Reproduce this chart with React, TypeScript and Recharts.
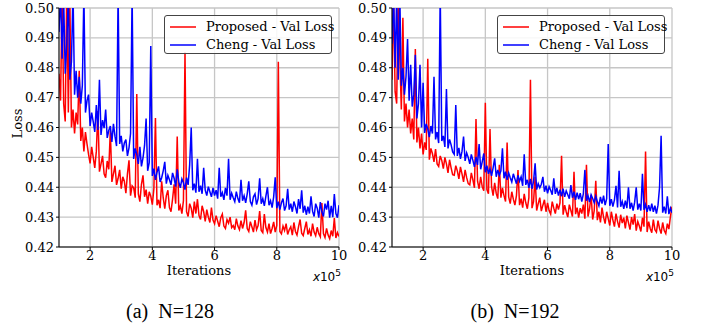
import {
  LineChart,
  Line,
  XAxis,
  YAxis,
  CartesianGrid,
} from "recharts";

// iterations, in units of 1e5
const iterations = Array.from({ length: 181 }, (_, i) => +(1 + i * 0.05).toFixed(2));

const xTicks = [2, 4, 6, 8, 10];
const yTicks = [0.42, 0.43, 0.44, 0.45, 0.46, 0.47, 0.48, 0.49, 0.5];

const seriesNames = ["Proposed - Val Loss", "Cheng - Val Loss"];
const captions = ["(a)  N=128", "(b)  N=192"];

// (a) N=128
const proposedA = [
  0.478, 0.469, 0.505, 0.468, 0.462, 0.508, 0.465, 0.502, 0.46, 0.466,
  0.458, 0.465, 0.461, 0.479, 0.4555, 0.46, 0.452, 0.4585, 0.4545, 0.451,
  0.448, 0.4535, 0.45, 0.4465, 0.452, 0.4655, 0.4452, 0.4478, 0.4505, 0.4445,
  0.4432, 0.4488, 0.446, 0.459, 0.4418, 0.4445, 0.4472, 0.4408, 0.443, 0.4458,
  0.4395, 0.4435, 0.442, 0.438, 0.4445, 0.449, 0.4372, 0.4405, 0.4398, 0.4365,
  0.4712, 0.4378, 0.4352, 0.441, 0.444, 0.4368, 0.4392, 0.4345, 0.4385, 0.437,
  0.4342, 0.4395, 0.4632, 0.434, 0.4358, 0.433, 0.442, 0.4365, 0.4328, 0.4372,
  0.439, 0.4332, 0.4318, 0.436, 0.441, 0.4345, 0.457, 0.4322, 0.4338, 0.4312,
  0.4355, 0.4853, 0.4318, 0.4302, 0.4345, 0.433, 0.4298, 0.4352, 0.4312, 0.436,
  0.4305, 0.4292, 0.4338, 0.4318, 0.4286, 0.4325, 0.43, 0.4282, 0.4332, 0.429,
  0.4278, 0.4305, 0.4286, 0.4268, 0.4298, 0.431, 0.427, 0.4262, 0.4292, 0.428,
  0.43, 0.4265, 0.4272, 0.4258, 0.4295, 0.427, 0.4258, 0.4288, 0.4262, 0.4282,
  0.4323, 0.4262, 0.4252, 0.4285, 0.4268, 0.425, 0.429, 0.4258, 0.4272, 0.432,
  0.4255, 0.4248, 0.431, 0.4265, 0.425, 0.4278, 0.4245, 0.4262, 0.4284, 0.425,
  0.4272, 0.482, 0.4252, 0.4244, 0.427, 0.4255, 0.4278, 0.4242, 0.4258, 0.4268,
  0.424, 0.4282, 0.4252, 0.424, 0.4268, 0.4292, 0.4246, 0.4238, 0.4262, 0.4285,
  0.4242, 0.4258, 0.4236, 0.4278, 0.425, 0.4238, 0.4266, 0.4244, 0.4234, 0.4347,
  0.4245, 0.4232, 0.4262, 0.424, 0.4228, 0.4255, 0.4236, 0.4297, 0.423, 0.4248,
  0.4235,
];
const chengA = [
  0.492, 0.505, 0.483, 0.503, 0.478, 0.488, 0.504, 0.476, 0.482, 0.506,
  0.471, 0.479, 0.47, 0.477, 0.468, 0.474, 0.505, 0.465, 0.469, 0.471,
  0.4605, 0.465, 0.462, 0.4585, 0.4675, 0.4592, 0.476, 0.4575, 0.4625, 0.4598,
  0.466, 0.4565, 0.459, 0.4605, 0.4552, 0.4612, 0.457, 0.4538, 0.505, 0.4545,
  0.4572, 0.452, 0.4548, 0.456, 0.4505, 0.4532, 0.458, 0.505, 0.4495, 0.453,
  0.451, 0.4478, 0.4535, 0.447, 0.4498, 0.454, 0.463, 0.4455, 0.4482, 0.4873,
  0.4438, 0.4462, 0.4425, 0.445, 0.447, 0.4418, 0.4432, 0.4455, 0.4485, 0.4412,
  0.444, 0.4425, 0.4408, 0.4448, 0.443, 0.4402, 0.446, 0.4418, 0.4398, 0.4428,
  0.4415, 0.4392, 0.4432, 0.4408, 0.4475, 0.46, 0.439, 0.4412, 0.4382, 0.4495,
  0.4385, 0.4405, 0.4378, 0.4465, 0.439, 0.4372, 0.4402, 0.4385, 0.4368, 0.4398,
  0.4372, 0.439, 0.4362, 0.4465, 0.4368, 0.4382, 0.4358, 0.4398, 0.4372, 0.4495,
  0.4358, 0.438, 0.4365, 0.4352, 0.4385, 0.4362, 0.4348, 0.4425, 0.4355, 0.4372,
  0.4348, 0.4378, 0.442, 0.4352, 0.434, 0.4368, 0.4378, 0.4342, 0.4362, 0.443,
  0.4345, 0.4362, 0.4338, 0.437, 0.44, 0.434, 0.4355, 0.4332, 0.4368, 0.4433,
  0.433, 0.4352, 0.4325, 0.4348, 0.4362, 0.4322, 0.4338, 0.4395, 0.4325, 0.4345,
  0.4318, 0.4352, 0.4335, 0.4312, 0.436, 0.4328, 0.439, 0.4315, 0.4338, 0.4308,
  0.4335, 0.4312, 0.437, 0.432, 0.4302, 0.4345, 0.433, 0.4298, 0.435, 0.4318,
  0.4302, 0.4345, 0.4325, 0.4355, 0.4298, 0.4338, 0.43, 0.4377, 0.4312, 0.4298,
  0.434,
];

// (b) N=192
const proposedB = [
  0.476, 0.505, 0.472, 0.468, 0.504, 0.484, 0.466, 0.4967, 0.462, 0.468,
  0.46, 0.466, 0.458, 0.463, 0.456, 0.4863, 0.455, 0.46, 0.453, 0.458,
  0.451, 0.455, 0.4525, 0.483, 0.4492, 0.453, 0.4512, 0.4485, 0.4528, 0.4478,
  0.447, 0.4505, 0.449, 0.4462, 0.45, 0.4478, 0.4448, 0.4492, 0.4465, 0.4442,
  0.444, 0.4472, 0.4455, 0.4428, 0.4468, 0.4445, 0.4418, 0.4458, 0.4432, 0.4412,
  0.4408, 0.4448, 0.4425, 0.4398, 0.4628, 0.442, 0.4395, 0.4435, 0.4402, 0.4388,
  0.4683, 0.4392, 0.4378, 0.4595, 0.4402, 0.4372, 0.4415, 0.438, 0.4362, 0.4475,
  0.4365, 0.4398, 0.4372, 0.4352, 0.455, 0.4368, 0.4345, 0.4385, 0.436, 0.434,
  0.4372, 0.4458, 0.434, 0.4362, 0.4332, 0.4378, 0.4348, 0.4328, 0.4365, 0.476,
  0.433, 0.4352, 0.4435, 0.4322, 0.4345, 0.4365, 0.432, 0.434, 0.4358, 0.4318,
  0.4348, 0.4322, 0.431, 0.4352, 0.433, 0.4312, 0.4345, 0.4325, 0.4348, 0.4505,
  0.4308, 0.434, 0.4318, 0.43, 0.4342, 0.4322, 0.4302, 0.4452, 0.431, 0.4332,
  0.4298, 0.433, 0.4312, 0.4342, 0.4295, 0.4475, 0.4302, 0.4328, 0.4375, 0.4292,
  0.4322, 0.4422, 0.429, 0.4318, 0.4282, 0.4332, 0.43, 0.4278, 0.4318, 0.4295,
  0.4272, 0.4318, 0.429, 0.4268, 0.4312, 0.4285, 0.4265, 0.4308, 0.428, 0.4298,
  0.4262, 0.4305, 0.4282, 0.4258, 0.43, 0.4275, 0.431, 0.4255, 0.4285, 0.427,
  0.4252, 0.4298, 0.4268, 0.452, 0.425, 0.4285, 0.4262, 0.4248, 0.4292, 0.4258,
  0.425, 0.4288, 0.4262, 0.4245, 0.4282, 0.4255, 0.4245, 0.4278, 0.426, 0.4302,
  0.4335,
];
const chengB = [
  0.488, 0.505, 0.48, 0.504, 0.476, 0.505, 0.474, 0.48, 0.471, 0.477,
  0.4896, 0.469, 0.481, 0.467, 0.471, 0.4843, 0.463, 0.468, 0.481, 0.46,
  0.475, 0.4582, 0.4612, 0.4595, 0.4568, 0.4605, 0.458, 0.477, 0.456, 0.4585,
  0.4548, 0.505, 0.4555, 0.4572, 0.4535, 0.4729, 0.453, 0.456, 0.4542, 0.4518,
  0.451, 0.4675, 0.4505, 0.4532, 0.4495, 0.452, 0.457, 0.4488, 0.4515, 0.45,
  0.4478, 0.451, 0.449, 0.4468, 0.4502, 0.4475, 0.4545, 0.446, 0.4485, 0.4513,
  0.445, 0.4472, 0.4445, 0.4462, 0.4438, 0.4465, 0.4497, 0.4435, 0.4458, 0.444,
  0.4455, 0.453, 0.443, 0.4452, 0.4425, 0.4448, 0.4432, 0.4418, 0.4445, 0.4428,
  0.4412, 0.444, 0.442, 0.4435, 0.4405, 0.451, 0.4408, 0.4425, 0.4398, 0.4428,
  0.4395, 0.442, 0.448, 0.4392, 0.4412, 0.4398, 0.441, 0.4435, 0.4385, 0.4405,
  0.438, 0.4402, 0.439, 0.4375, 0.443, 0.4378, 0.4398, 0.4372, 0.4392, 0.437,
  0.4395, 0.4368, 0.4388, 0.4375, 0.4362, 0.4407, 0.4365, 0.4385, 0.4358, 0.4382,
  0.436, 0.438, 0.4352, 0.4378, 0.4458, 0.4355, 0.4372, 0.435, 0.4375, 0.4362,
  0.4348, 0.437, 0.4352, 0.4338, 0.4368, 0.4345, 0.4372, 0.434, 0.4362, 0.4545,
  0.4338, 0.436, 0.4335, 0.4358, 0.4405, 0.4332, 0.4455, 0.4335, 0.4352, 0.4328,
  0.4355, 0.433, 0.44, 0.4328, 0.4348, 0.4322, 0.435, 0.44, 0.4325, 0.4345,
  0.4322, 0.4445, 0.4325, 0.4342, 0.4318, 0.434, 0.432, 0.4345, 0.4318, 0.4338,
  0.4312, 0.434, 0.44, 0.4572, 0.4315, 0.4335, 0.4312, 0.437, 0.431, 0.433,
  0.4315,
];

const buildRows = (proposed: number[], cheng: number[]) =>
  iterations.map((it, i) => ({ it, proposed: proposed[i], cheng: cheng[i] }));

const serif = "'DejaVu Serif', serif";

function LegendBox({ left, top }: { left: number; top: number }) {
  const colors = ["#ff0000", "#0000ff"];
  return (
    <div
      style={{
        position: "absolute",
        left,
        top,
        width: 168,
        height: 39,
        border: "1px solid #444",
        borderRadius: 3,
        background: "rgba(255,255,255,0.85)",
        fontFamily: serif,
        fontSize: 13,
        boxSizing: "border-box",
      }}
    >
      {seriesNames.map((name, i) => (
        <div
          key={name}
          style={{ position: "absolute", left: 5, top: 2 + i * 18, height: 17, display: "flex", alignItems: "center" }}
        >
          <svg width={26} height={4} style={{ marginRight: 10 }}>
            <line x1={0} y1={2} x2={26} y2={2} stroke={colors[i]} strokeWidth={1.5} />
          </svg>
          <span style={{ whiteSpace: "nowrap" }}>{name}</span>
        </div>
      ))}
    </div>
  );
}

function Panel({
  rows,
  left,
  yAxisWidth,
  marginLeft,
  marginRight,
}: {
  rows: { it: number; proposed: number; cheng: number }[];
  left: number;
  yAxisWidth: number;
  marginLeft: number;
  marginRight: number;
}) {
  const tick = { fontFamily: serif, fontSize: 13, fill: "#000" };
  return (
    <div style={{ position: "absolute", left, top: 0 }}>
      <LineChart
        width={352}
        height={280}
        data={rows}
        margin={{ top: 8, right: marginRight, bottom: 3, left: marginLeft }}
      >
        <CartesianGrid stroke="#c6c6c6" strokeWidth={1.3} />
        <XAxis
          dataKey="it"
          type="number"
          domain={[1, 10]}
          ticks={xTicks}
          allowDataOverflow
          height={30}
          tick={tick}
          tickSize={3}
          tickMargin={1}
          stroke="#000"
        />
        <XAxis
          xAxisId="top"
          orientation="top"
          type="number"
          domain={[1, 10]}
          height={0}
          tick={false}
          tickLine={false}
          stroke="#000"
        />
        <YAxis
          type="number"
          domain={[0.42, 0.5]}
          ticks={yTicks}
          allowDataOverflow
          width={yAxisWidth}
          tick={tick}
          tickSize={3}
          tickMargin={2}
          tickFormatter={(v: number) => v.toFixed(2)}
          stroke="#000"
        />
        <YAxis
          yAxisId="right"
          orientation="right"
          type="number"
          domain={[0.42, 0.5]}
          width={0}
          tick={false}
          tickLine={false}
          stroke="#000"
        />
        <Line
          type="linear"
          dataKey="proposed"
          stroke="#ff0000"
          strokeWidth={1.5}
          dot={false}
          isAnimationActive={false}
        />
        <Line
          type="linear"
          dataKey="cheng"
          stroke="#0000ff"
          strokeWidth={1.5}
          dot={false}
          isAnimationActive={false}
        />
      </LineChart>
    </div>
  );
}

function AxisTexts({
  plotLeft,
  plotRight,
  captionCenter,
  caption,
}: {
  plotLeft: number;
  plotRight: number;
  captionCenter: number;
  caption: string;
}) {
  const mid = (plotLeft + plotRight) / 2;
  return (
    <>
      <div
        style={{
          position: "absolute",
          left: mid - 60,
          width: 120,
          top: 263,
          textAlign: "center",
          fontFamily: serif,
          fontSize: 13,
        }}
      >
        Iterations
      </div>
      <div
        style={{
          position: "absolute",
          left: plotRight - 60,
          width: 62,
          top: 268,
          textAlign: "right",
          fontFamily: "'DejaVu Sans', sans-serif",
          fontSize: 12,
        }}
      >
        <i>x</i>10<sup style={{ fontSize: 9 }}>5</sup>
      </div>
      <div
        style={{
          position: "absolute",
          left: captionCenter - 100,
          width: 200,
          top: 300,
          textAlign: "center",
          fontFamily: "'Liberation Serif', serif",
          fontSize: 20,
          whiteSpace: "pre",
        }}
      >
        {caption}
      </div>
    </>
  );
}

export default function App() {
  const rowsA = buildRows(proposedA, chengA);
  const rowsB = buildRows(proposedB, chengB);
  return (
    <div style={{ position: "absolute", left: 0, top: 0, width: 704, height: 326, background: "#fff", overflow: "hidden" }}>
      <Panel rows={rowsA} left={0} yAxisWidth={45} marginLeft={14} marginRight={13} />
      <Panel rows={rowsB} left={352} yAxisWidth={40} marginLeft={0} marginRight={32} />
      <div
        style={{
          position: "absolute",
          left: 17 - 30,
          top: 125 - 9,
          width: 60,
          textAlign: "center",
          transform: "rotate(-90deg)",
          fontFamily: serif,
          fontSize: 13,
        }}
      >
        Loss
      </div>
      <AxisTexts plotLeft={59} plotRight={339} captionCenter={170} caption={captions[0]} />
      <AxisTexts plotLeft={392} plotRight={672} captionCenter={515} caption={captions[1]} />
      <LegendBox left={164} top={15} />
      <LegendBox left={497} top={15} />
    </div>
  );
}
